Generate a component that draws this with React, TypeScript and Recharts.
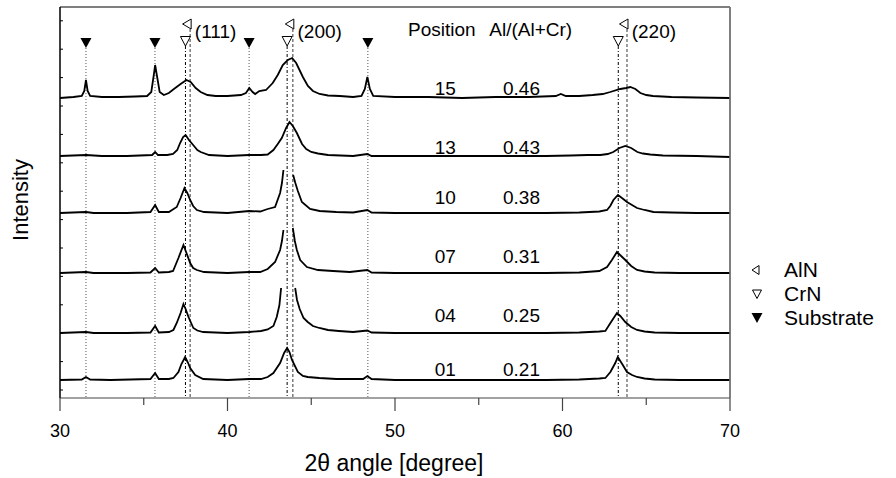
import React from 'react';
import { LineChart, Line, XAxis, YAxis, ReferenceLine, ReferenceDot } from 'recharts';

type Pt = [number, number | null];

// sample labels, top to bottom
const positions = ['15', '13', '10', '07', '04', '01'];
const ratios = ['0.46', '0.43', '0.38', '0.31', '0.25', '0.21'];
// vertical stacking offset of each pattern (arb. units)
const offsets = [301, 242, 185, 125, 65, 18];
const labelLevels = [310, 251, 201, 142, 83, 29];

// 2theta, intensity above baseline (arb. units); null = broken (cut) peak top
const trace15: Pt[] = [
  [30, -1], [30.8, 0], [31.3, 1], [31.45, 6], [31.55, 17], [31.65, 6], [31.8, 1], [32.5, 0], [33.5, 0],
  [34.5, 0.5], [35.2, 1], [35.45, 5], [35.6, 22], [35.68, 32], [35.78, 22], [35.95, 5], [36.2, 2],
  [36.5, 4], [36.8, 8], [37.2, 13], [37.55, 17], [37.8, 15], [38.1, 9], [38.4, 5], [38.8, 2], [39.3, 1],
  [40, 1], [40.8, 2], [41.1, 4], [41.3, 9], [41.5, 5], [41.65, 3], [41.9, 6], [42.3, 7], [42.7, 14],
  [43.0, 22], [43.3, 32], [43.6, 37], [43.86, 39], [44.1, 34], [44.5, 20], [44.8, 11], [45.1, 6],
  [45.5, 3], [46.0, 1.5], [46.7, 1], [47.5, 0], [48.0, 1], [48.2, 8], [48.35, 20], [48.5, 8], [48.7, 1],
  [50, 0], [52, 0], [54, -1], [56, 0], [58, 0], [59.6, 1], [59.9, 3], [60.2, 1], [61, 1], [61.8, 2],
  [62.4, 3], [62.85, 5], [63.45, 8], [63.8, 9], [64.05, 10], [64.35, 8], [64.65, 4], [65.0, 2],
  [65.4, 1], [66.5, 0], [68, -0.5], [70, -1],
];
const trace13: Pt[] = [
  [30, 0], [31.55, 1], [32.5, 0], [34, 0], [35.5, 1], [35.68, 4], [35.85, 1], [36.4, 1], [36.75, 2],
  [37.0, 6], [37.17, 13], [37.35, 19], [37.5, 21], [37.7, 16], [37.95, 11], [38.2, 6], [38.4, 4],
  [38.9, 1], [40, 0], [41.3, 1], [42, 1], [42.4, 1.5], [42.74, 6], [43.0, 12], [43.24, 18], [43.5, 28],
  [43.7, 34], [43.9, 30], [44.14, 23], [44.45, 12], [44.7, 7], [45.0, 4], [45.4, 2.5], [46, 1],
  [47.5, 0], [48.35, 2], [48.6, 0], [50, 0], [53, 0], [56, 0], [59, 0], [60.5, 0.5], [61.5, 1],
  [62.26, 1], [62.7, 2], [63.03, 4], [63.4, 8], [63.75, 10], [64.1, 8], [64.47, 4], [64.8, 2.5],
  [65.24, 1.5], [66, 0.5], [68, 0], [70, -1],
];
const trace10: Pt[] = [
  [30, 0], [31.55, 1], [32, 0], [34, 0], [35.4, 1], [35.68, 8], [35.9, 1], [36.5, 1], [36.97, 6],
  [37.2, 15], [37.43, 25], [37.6, 20], [37.77, 13], [37.95, 7], [38.17, 3], [38.6, 1], [40, 0],
  [41.3, 2], [41.95, 1.5], [42.4, 4], [42.84, 6], [43.14, 20], [43.25, 30], [43.34, 43], [43.6, null],
  [43.92, 38], [44.05, 30], [44.2, 22], [44.44, 11], [44.93, 4], [45.5, 2], [46.5, 1], [47.5, 0.5],
  [48.35, 3], [48.6, 0.5], [50, 0], [53, 0], [56, 0], [59, 0], [61, 0.5], [62.2, 1.5], [62.66, 3],
  [62.85, 7], [63.04, 13], [63.31, 18], [63.55, 15], [63.85, 11], [64.15, 8], [64.45, 5], [64.9, 3],
  [65.43, 1], [66.5, 0.5], [68, 0], [70, 0],
];
const trace07: Pt[] = [
  [30, 0], [31.55, 1], [32, 0], [34, 0], [35.4, 0.5], [35.68, 5], [35.9, 0.5], [36.5, 1], [36.75, 2],
  [37.07, 15], [37.37, 28], [37.55, 20], [37.77, 10], [37.95, 5], [38.17, 3], [38.6, 1], [40, 0],
  [41.3, 1], [41.95, 1], [42.4, 4], [42.84, 11], [43.14, 23], [43.25, 32], [43.34, 43], [43.6, null],
  [43.9, 45], [44.02, 32], [44.14, 23], [44.34, 13], [44.74, 6], [45.4, 3], [46.3, 2], [47.3, 1],
  [48.35, 3], [48.6, 0.5], [50, 0], [53, 0], [56, 0], [59, 0], [61, 0.5], [62.2, 2], [62.66, 6],
  [62.95, 13], [63.25, 21], [63.5, 17], [63.75, 13], [64.1, 7], [64.45, 3], [64.9, 1.5], [65.5, 0.5],
  [67, 0], [70, 0],
];
const trace04: Pt[] = [
  [30, 0], [31.55, 1], [32, 0], [34, 0], [35.4, 0.5], [35.68, 7], [35.9, 0.5], [36.5, 1], [36.77, 3],
  [36.97, 10], [37.2, 20], [37.37, 29], [37.5, 24], [37.67, 16], [37.96, 5], [38.2, 2.5], [38.55, 1],
  [40, 0], [41.3, 1], [42, 2], [42.4, 3.5], [42.74, 7], [42.94, 16], [43.1, 28], [43.2, 45],
  [43.6, null], [44.04, 45], [44.15, 33], [44.31, 24], [44.54, 15], [44.79, 11], [45.1, 7], [45.48, 5],
  [46.0, 3], [46.65, 2], [47.5, 1], [48.35, 2.5], [48.6, 0.5], [50, 0], [53, 0], [56, 0], [59, 0],
  [61, 0.5], [62.2, 1.5], [62.56, 2], [62.86, 10], [63.25, 20], [63.45, 17], [63.75, 11], [64.1, 6],
  [64.45, 3], [64.9, 1.5], [65.5, 0.5], [67, 0], [70, 0],
];
const trace01: Pt[] = [
  [30, 0], [31.3, 0.5], [31.55, 3], [31.8, 0.5], [33, 0], [35.4, 1], [35.68, 7], [35.9, 1], [36.5, 1],
  [36.77, 2], [37.07, 8], [37.25, 16], [37.47, 23], [37.65, 17], [37.77, 12], [38.07, 5], [38.55, 1],
  [40, 0], [41.3, 1], [42, 1], [42.4, 3], [42.74, 7], [43.14, 17], [43.38, 27], [43.56, 32], [43.7, 28],
  [43.85, 20], [44.2, 8], [44.5, 4], [44.79, 3], [45.48, 2], [46.5, 1], [48.1, 1], [48.35, 4], [48.6, 1],
  [50, 0], [53, 0], [56, 0], [59, 0], [61, 0.5], [62.2, 1.5], [62.56, 2], [62.86, 8], [63.15, 17],
  [63.3, 23], [63.6, 15], [63.85, 8], [64.15, 5], [64.45, 3], [64.9, 1.5], [65.5, 0.5], [67, 0], [70, 0],
];
const traces = [trace15, trace13, trace10, trace07, trace04, trace01];

// reference peak positions
const substratePeaks = [31.55, 35.67, 41.29, 48.38];
const crnPeaks = [37.49, 43.56, 63.33];
const alnPeaks = [37.77, 43.9, 63.85];
const reflections = ['(111)', '(200)', '(220)'];

const xTicks = [30, 35, 40, 45, 50, 55, 60, 65, 70];
const yTicks = Array.from({ length: 27 }, (_, k) => 8 + k * 14.2);

const FONT = '"Liberation Sans", Arial, sans-serif';

const XTick = (props: any) => {
  const { x, y, payload } = props;
  const major = payload.value % 10 === 0;
  return (
    <g>
      <line x1={x} x2={x} y1={y} y2={y + (major ? 13 : 7)} stroke="#444" strokeWidth={1.2} />
      {major && (
        <text x={x} y={y + 33} textAnchor="middle" dominantBaseline="central" fontSize={18} fontFamily={FONT} fill="#000">
          {payload.value}
        </text>
      )}
    </g>
  );
};

const LeftTick = (props: any) => <line x1={props.x} x2={props.x + 3} y1={props.y} y2={props.y} stroke="#000" />;
const RightTick = (props: any) => <line x1={props.x} x2={props.x + 3} y1={props.y} y2={props.y} stroke="#777" />;

const txt = (value: string, anchor: 'start' | 'middle' = 'middle') => (p: any) => (
  <text x={p.cx} y={p.cy} textAnchor={anchor} dominantBaseline="central" fontSize={19} fontFamily={FONT} fill="#000">
    {value}
  </text>
);
const downFilled = (p: any) => (
  <path d={`M${p.cx - 5.5},${p.cy - 5} L${p.cx + 5.5},${p.cy - 5} L${p.cx},${p.cy + 5} Z`} fill="#000" />
);
const downOpen = (p: any) => (
  <path d={`M${p.cx - 5},${p.cy - 4.5} L${p.cx + 5},${p.cy - 4.5} L${p.cx},${p.cy + 5} Z`} fill="#fff" stroke="#000" strokeWidth={1} />
);
const leftOpen = (p: any) => (
  <path d={`M${p.cx + 1},${p.cy - 5} L${p.cx + 1},${p.cy + 5} L${p.cx - 7.5},${p.cy} Z`} fill="#fff" stroke="#000" strokeWidth={1} />
);

export default function App() {
  const series = traces.map((t, i) => t.map(([x, h]) => ({ x, y: h == null ? null : h + offsets[i] })));

  return (
    <div style={{ position: 'absolute', left: 0, top: 0, width: 896, height: 478, background: '#fff', fontFamily: FONT }}>
      <LineChart width={896} height={478} margin={{ top: 7, right: 165, bottom: 30, left: 59 }}>
        <XAxis
          type="number"
          dataKey="x"
          domain={[30, 70]}
          ticks={xTicks}
          allowDataOverflow
          height={50}
          tickSize={0}
          tickMargin={0}
          tick={<XTick />}
          axisLine={{ stroke: '#444', strokeWidth: 1.2 }}
        />
        <YAxis yAxisId="l" type="number" domain={[0, 391]} allowDataOverflow width={1} ticks={yTicks} tickSize={0} tickMargin={0} tick={<LeftTick />} axisLine={{ stroke: '#000' }} />
        <YAxis yAxisId="r" orientation="right" type="number" domain={[0, 391]} width={1} ticks={yTicks} tickSize={0} tickMargin={0} tick={<RightTick />} axisLine={{ stroke: '#777', strokeWidth: 1.5 }} />
        <ReferenceLine yAxisId="l" y={391} stroke="#000" strokeWidth={1.2} />
        <ReferenceLine yAxisId="l" x={30} stroke="#000" strokeWidth={1} />
        <ReferenceLine yAxisId="l" x={70} stroke="#777" strokeWidth={1.5} />

        {substratePeaks.map((p) => (
          <ReferenceLine key={'s' + p} yAxisId="l" segment={[{ x: p, y: 350 }, { x: p, y: 0 }]} stroke="#555" strokeDasharray="1 2" />
        ))}
        {crnPeaks.map((p) => (
          <ReferenceLine key={'c' + p} yAxisId="l" segment={[{ x: p, y: 352 }, { x: p, y: 0 }]} stroke="#000" strokeDasharray="3 2 1 2" />
        ))}
        {alnPeaks.map((p) => (
          <ReferenceLine key={'a' + p} yAxisId="l" segment={[{ x: p, y: 369 }, { x: p, y: 0 }]} stroke="#666" strokeWidth={1.3} strokeDasharray="3 2" />
        ))}

        {series.map((d, i) => (
          <Line
            key={positions[i]}
            yAxisId="l"
            data={d}
            dataKey="y"
            type="linear"
            stroke="#000"
            strokeWidth={1.8}
            dot={false}
            connectNulls={false}
            isAnimationActive={false}
          />
        ))}

        {substratePeaks.map((p) => (
          <ReferenceDot key={'sm' + p} yAxisId="l" x={p} y={355} r={5} shape={downFilled} />
        ))}
        {crnPeaks.map((p) => (
          <ReferenceDot key={'cm' + p} yAxisId="l" x={p} y={357} r={4} shape={downOpen} />
        ))}
        {alnPeaks.map((p, i) => (
          <React.Fragment key={'am' + p}>
            <ReferenceDot yAxisId="l" x={p} y={374} r={4} shape={leftOpen} />
            <ReferenceDot yAxisId="l" x={p + 0.28} y={367} r={1} shape={txt(reflections[i], 'start')} />
          </React.Fragment>
        ))}

        <ReferenceDot yAxisId="l" x={52.8} y={369} r={1} shape={txt('Position')} />
        <ReferenceDot yAxisId="l" x={58.1} y={369} r={1} shape={txt('Al/(Al+Cr)')} />
        {positions.map((p, i) => (
          <React.Fragment key={'lab' + p}>
            <ReferenceDot yAxisId="l" x={53.0} y={labelLevels[i]} r={1} shape={txt(p)} />
            <ReferenceDot yAxisId="l" x={57.55} y={labelLevels[i]} r={1} shape={txt(ratios[i])} />
          </React.Fragment>
        ))}
      </LineChart>

      <div style={{ position: 'absolute', left: 0, top: 0, width: 896, height: 478, pointerEvents: 'none' }}>
        <div style={{ position: 'absolute', left: 21, top: 200, transform: 'translate(-50%, -50%) rotate(-90deg)', fontSize: 22, whiteSpace: 'nowrap' }}>
          Intensity
        </div>
        <div style={{ position: 'absolute', left: 394, top: 463, transform: 'translate(-50%, -50%)', fontSize: 23, whiteSpace: 'nowrap' }}>
          2θ angle [degree]
        </div>
        {[
          { name: 'AlN', y: 270, icon: <path d="M8,1.5 L8,10.5 L1,6 Z" fill="#fff" stroke="#000" /> },
          { name: 'CrN', y: 294, icon: <path d="M1.5,2 L10.5,2 L6,10.5 Z" fill="#fff" stroke="#000" /> },
          { name: 'Substrate', y: 318, icon: <path d="M0.5,1 L11.5,1 L6,11 Z" fill="#000" /> },
        ].map((it) => (
          <div key={it.name} style={{ position: 'absolute', left: 751, top: it.y - 12, height: 24, display: 'flex', alignItems: 'center', fontSize: 21 }}>
            <svg width={12} height={12} style={{ marginRight: 21 }}>{it.icon}</svg>
            <span>{it.name}</span>
          </div>
        ))}
      </div>
    </div>
  );
}
